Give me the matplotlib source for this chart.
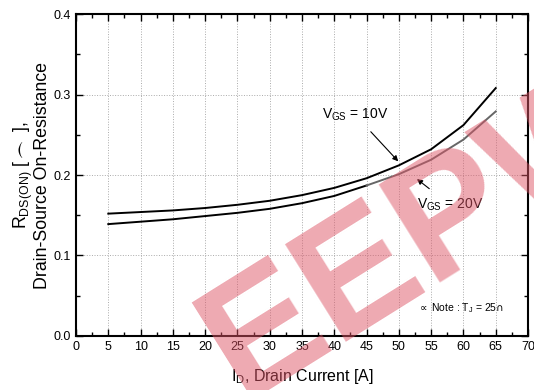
import numpy as np
import matplotlib
matplotlib.use("Agg")
import matplotlib.pyplot as plt
from matplotlib.ticker import MultipleLocator

plt.rcParams['font.family'] = ['Liberation Sans', 'DejaVu Sans']

# data
drain_current = [5, 10, 15, 20, 25, 30, 35, 40, 45, 50, 55, 60, 65]
rds_vgs10 = [0.152, 0.154, 0.156, 0.159, 0.163, 0.168, 0.175, 0.184, 0.196, 0.212, 0.232, 0.262, 0.308]
rds_vgs20 = [0.139, 0.142, 0.145, 0.149, 0.153, 0.158, 0.165, 0.174, 0.187, 0.201, 0.219, 0.244, 0.279]
x_ticks = list(range(0, 71, 5))
y_ticks = [0.0, 0.1, 0.2, 0.3, 0.4]

x = np.array(drain_current)
y20 = np.array(rds_vgs20)

fig = plt.figure(figsize=(5.34, 3.90), dpi=100)
ax = fig.add_axes([0.1423, 0.1385, 0.8465, 0.8255])

ax.plot(x, rds_vgs10, color='black', lw=1.4, zorder=3)
# lower curve turns gray towards the high-current end
ax.plot(x[x <= 45], y20[x <= 45], color='black', lw=1.4, zorder=3)
ax.plot(x[x >= 45], y20[x >= 45], color='#666666', lw=1.4, zorder=3)

ax.set_xlim(0, 70)
ax.set_ylim(0, 0.4)
ax.set_xticks(x_ticks)
ax.set_yticks(y_ticks)
ax.set_yticklabels([f"{v:.1f}" for v in y_ticks])
ax.xaxis.set_minor_locator(MultipleLocator(2.5))
ax.yaxis.set_minor_locator(MultipleLocator(0.05))
ax.tick_params(which='both', direction='in', top=True, right=True, labelsize=9, width=1.0)
ax.tick_params(which='major', length=5)
ax.tick_params(which='minor', length=3)
for s in ax.spines.values():
    s.set_linewidth(1.5)
ax.grid(True, which='major', color='#aaaaaa', ls=':', lw=0.7)

ax.set_xlabel('I$_{\\mathregular{D}}$, Drain Current [A]', fontsize=11.5, labelpad=10)
ax.set_ylabel('R$_{\\mathregular{DS(ON)}}$ [$\\frown$ ],\nDrain-Source On-Resistance', fontsize=12.8,
              labelpad=2, linespacing=0.95)

ax.annotate('V$_{\\mathregular{GS}}$ = 10V', xy=(49.9, 0.217), xytext=(43.2, 0.275),
            fontsize=10, ha='center', va='center',
            arrowprops=dict(arrowstyle='-|>', color='black', lw=0.8, shrinkA=6, shrinkB=0, mutation_scale=8))
ax.annotate('V$_{\\mathregular{GS}}$ = 20V', xy=(52.8, 0.195), xytext=(57.9, 0.163),
            fontsize=10, ha='center', va='center',
            arrowprops=dict(arrowstyle='-|>', color='black', lw=0.8, shrinkA=6, shrinkB=0, mutation_scale=8))
ax.text(59.5, 0.035, '$\\propto$ Note : T$_{\\mathregular{J}}$ = 25$\\cap$', fontsize=7.5, ha='center', va='center')

# watermark
fig.text(0.80, 0.40, 'EEPW', fontsize=120, fontweight='bold', rotation=32,
         color='#dd5566', alpha=0.5, ha='center', va='center', zorder=10)

fig.savefig('out.png', dpi=100)
